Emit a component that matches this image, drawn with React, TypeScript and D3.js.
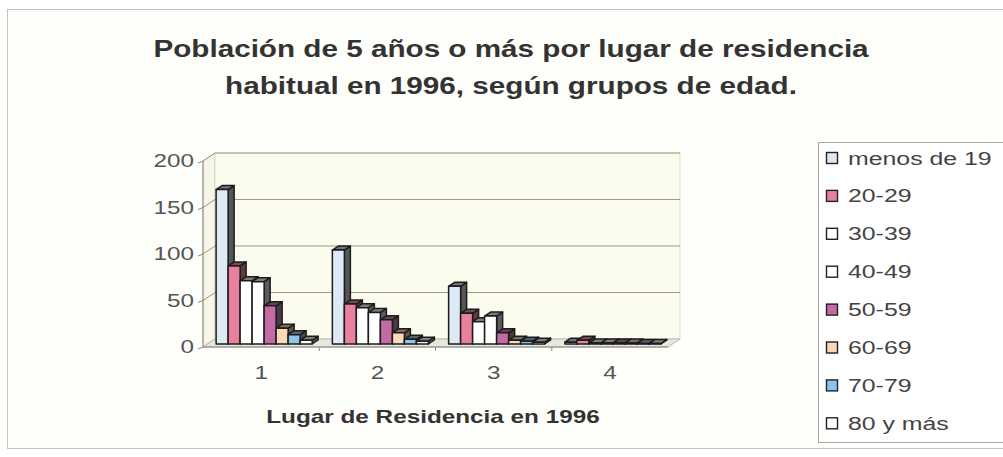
import React, { useEffect, useRef } from 'react';
import * as d3 from 'd3';

// categories (lugar de residencia) and age groups
const categories = ['1', '2', '3', '4'];
const ageGroups = ['menos de 19', '20-29', '30-39', '40-49', '50-59', '60-69', '70-79', '80 y más'];
const groupColors = ['#dde9f5', '#e8809e', '#ffffff', '#ffffff', '#c46aa4', '#fbd9b4', '#8fc3ea', '#ffffff'];

// values per age group, one per category
const menos19 = [166, 101, 62, 2];
const g2029 = [84, 43, 33, 4];
const g3039 = [68, 39, 24, 1];
const g4049 = [67, 34, 30, 1];
const g5059 = [41, 26, 12, 1];
const g6069 = [17, 12, 4, 1];
const g7079 = [10, 5, 3, 0.5];
const g80 = [4, 3, 2, 0.5];
const series = [menos19, g2029, g3039, g4049, g5059, g6069, g7079, g80];

const yTicks = [0, 50, 100, 150, 200];
const titleLines = ['Población de 5 años o más por lugar de residencia', 'habitual en 1996, según grupos de edad.'];
const xTitle = 'Lugar de Residencia en 1996';

const App = () => {
  const ref = useRef<SVGSVGElement>(null);

  useEffect(() => {
    const w = 1003;
    const h = 457;
    const sx = 1.35; // the picture is stretched sideways
    const font = 'Liberation Sans, Arial, sans-serif';

    const svg = d3.select(ref.current);
    svg.selectAll('*').remove();
    svg.attr('width', w).attr('height', h);

    // chart area
    svg.append('rect').attr('width', w).attr('height', h).attr('fill', '#ffffff');
    svg.append('rect')
      .attr('x', 7.5).attr('y', 9.5).attr('width', 1010).attr('height', 439)
      .attr('fill', '#fefefb').attr('stroke', '#c4c4c0');

    const txt = (x: number, y: number, s: string, size: number, weight: string, color: string, anchor: string, scaleX = sx) => {
      svg.append('text')
        .attr('transform', `translate(${x},${y}) scale(${scaleX},1)`)
        .attr('text-anchor', anchor)
        .attr('font-family', font)
        .attr('font-size', size)
        .attr('font-weight', weight)
        .attr('fill', color)
        .text(s);
    };

    // title
    txt(511, 57, titleLines[0], 23, 'bold', '#333', 'middle', 1.29);
    txt(511, 94, titleLines[1], 23, 'bold', '#333', 'middle', 1.29);

    // 3d box geometry
    const x0 = 203, x1 = 668;
    const dx = 12, dy = -8; // back wall offset
    const yScale = d3.scaleLinear().domain([0, 200]).range([347, 161]);
    const xScale = d3.scaleBand().domain(categories).range([x0, x1]).paddingInner(0.174).paddingOuter(0.087);
    const xInner = d3.scaleBand().domain(d3.range(ageGroups.length).map(String)).range([0, xScale.bandwidth()]);

    const yb = yScale(0);
    const yt = yScale(200);

    // left wall
    svg.append('polygon')
      .attr('points', [[x0, yt], [x0 + dx, yt + dy], [x0 + dx, yb + dy], [x0, yb]].join(' '))
      .attr('fill', '#f7f7e8').attr('stroke', '#c8c8b8');
    // back wall
    svg.append('rect')
      .attr('x', x0 + dx).attr('y', yt + dy).attr('width', x1 - x0).attr('height', yb - yt)
      .attr('fill', '#fbfbee').attr('stroke', '#dcdccc');
    // floor
    svg.append('polygon')
      .attr('points', [[x0, yb], [x1, yb], [x1 + dx, yb + dy], [x0 + dx, yb + dy]].join(' '))
      .attr('fill', '#e6e8de').attr('stroke', '#b8b8a8');

    // gridlines
    yTicks.forEach(t => {
      const y = yScale(t);
      if (t > 0) {
        svg.append('line')
          .attr('x1', x0 + dx).attr('x2', x1 + dx).attr('y1', y + dy).attr('y2', y + dy)
          .attr('stroke', '#9a9a86').attr('stroke-width', 1);
        svg.append('line')
          .attr('x1', x0).attr('x2', x0 + dx).attr('y1', y).attr('y2', y + dy)
          .attr('stroke', '#9a9a86');
      }
      svg.append('line')
        .attr('x1', x0 - 5).attr('x2', x0).attr('y1', y + 2).attr('y2', y)
        .attr('stroke', '#888');
      txt(194, y + 6, String(t), 18, 'normal', '#555', 'end');
    });
    // value axis
    svg.append('line').attr('x1', x0).attr('x2', x0).attr('y1', yt).attr('y2', yb).attr('stroke', '#888');
    // category axis ticks
    categories.forEach((c, i) => {
      const xc = (xScale(c) as number) + xScale.bandwidth() / 2;
      txt(xc, 379, c, 18, 'normal', '#555', 'middle');
      if (i > 0) {
        const xt = (xScale(c) as number) - (xScale.step() - xScale.bandwidth()) / 2;
        svg.append('line').attr('x1', xt).attr('x2', xt).attr('y1', yb).attr('y2', yb + 4).attr('stroke', '#888');
      }
    });
    svg.append('line').attr('x1', x0).attr('x2', x1).attr('y1', yb).attr('y2', yb).attr('stroke', '#888');

    // bars
    const bdx = 3, bdy = -3; // bar position inside the box
    const ddx = 6, ddy = -4; // bar depth
    const bw = xInner.bandwidth();
    categories.forEach((c, ci) => {
      series.forEach((vals, si) => {
        const v = vals[ci];
        const x = (xScale(c) as number) + (xInner(String(si)) as number) + bdx;
        const yTop = yScale(v) + bdy;
        const yBot = yb + bdy;
        const fill = groupColors[si];
        const side = d3.interpolateRgb(fill, '#262626')(0.75);
        const top = d3.interpolateRgb(fill, '#262626')(0.6);
        const g = svg.append('g').attr('stroke', '#1c1c1c').attr('stroke-width', 1.5).attr('stroke-linejoin', 'round');
        g.append('polygon')
          .attr('points', [[x + bw, yTop], [x + bw + ddx, yTop + ddy], [x + bw + ddx, yBot + ddy], [x + bw, yBot]].join(' '))
          .attr('fill', side);
        g.append('polygon')
          .attr('points', [[x, yTop], [x + ddx, yTop + ddy], [x + bw + ddx, yTop + ddy], [x + bw, yTop]].join(' '))
          .attr('fill', top);
        g.append('rect')
          .attr('x', x).attr('y', yTop).attr('width', bw).attr('height', Math.max(0.5, yBot - yTop))
          .attr('fill', fill);
      });
    });

    // axis title
    txt(433, 423, xTitle, 18, 'bold', '#333', 'middle');

    // legend
    svg.append('rect')
      .attr('x', 818.5).attr('y', 142.5).attr('width', 200).attr('height', 300)
      .attr('fill', '#ffffff').attr('stroke', '#a8a8a0');
    ageGroups.forEach((a, i) => {
      const y = 158 + i * 37.9;
      svg.append('rect')
        .attr('x', 826.5).attr('y', y - 5.5).attr('width', 11).attr('height', 11)
        .attr('fill', groupColors[i]).attr('stroke', '#222').attr('stroke-width', 1.4);
      txt(848, y + 6.5, a, 18, 'normal', '#444', 'start', 1.38);
    });
  }, []);

  return <svg ref={ref} style={{ position: 'absolute', left: 0, top: 0 }}></svg>;
};

export default App;
